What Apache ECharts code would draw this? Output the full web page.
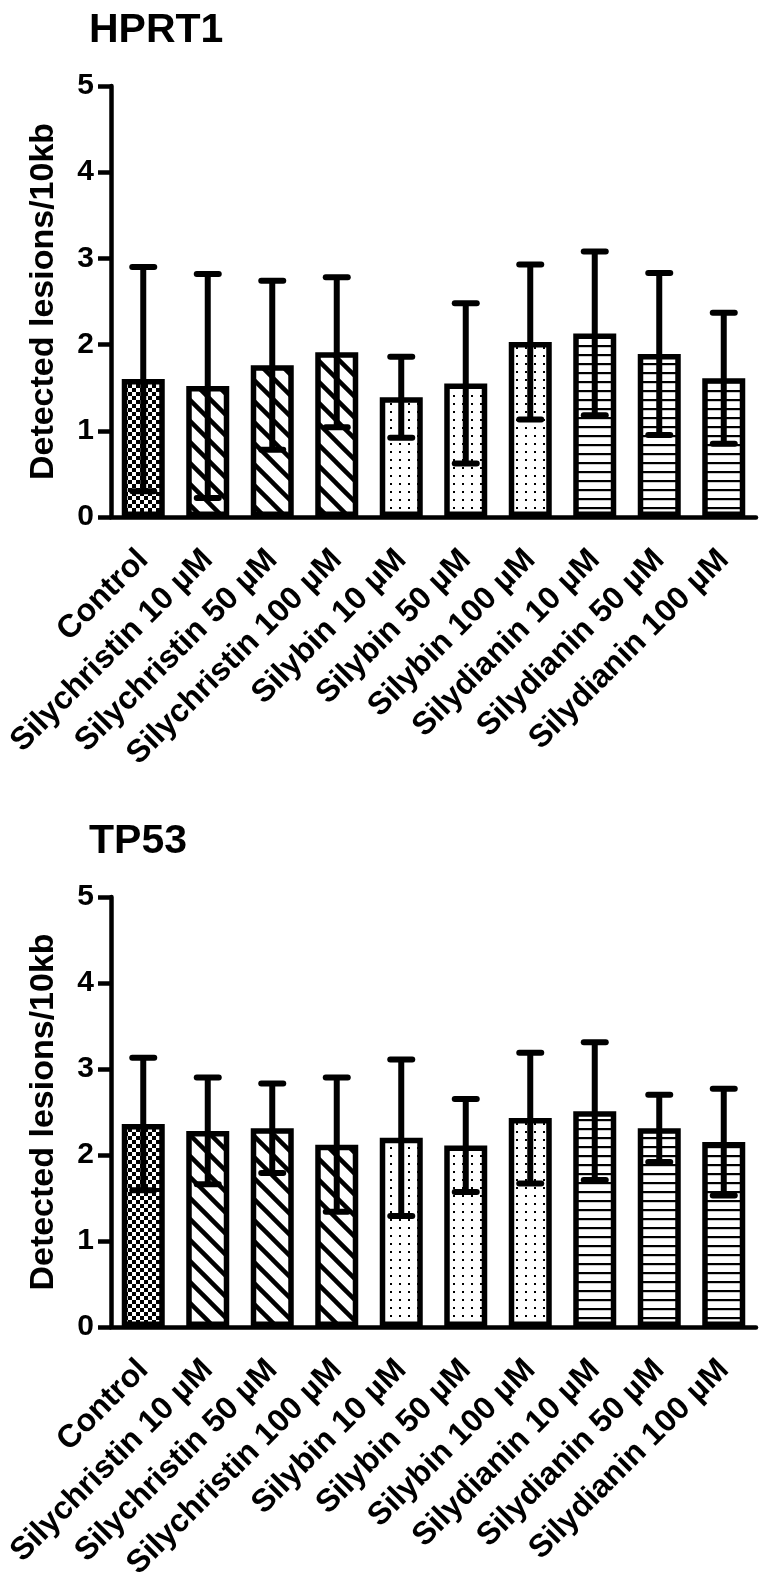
<!DOCTYPE html>
<html>
<head>
<meta charset="utf-8">
<script src="https://cdn.jsdelivr.net/npm/echarts@6/dist/echarts.min.js"></script>
<style>
html,body{margin:0;padding:0;background:#fff;}
#chart{width:766px;height:1586px;}
</style>
</head>
<body>
<div id="chart"></div>
<script>
// ---- data ----
const categories = ['Control','Silychristin 10 µM','Silychristin 50 µM','Silychristin 100 µM',
  'Silybin 10 µM','Silybin 50 µM','Silybin 100 µM','Silydianin 10 µM','Silydianin 50 µM','Silydianin 100 µM'];
const hprt1Mean = [1.60, 1.52, 1.76, 1.91, 1.39, 1.55, 2.03, 2.13, 1.89, 1.61];
const hprt1SD   = [1.30, 1.30, 0.98, 0.87, 0.47, 0.93, 0.90, 0.95, 0.94, 0.76];
const tp53Mean  = [2.36, 2.28, 2.31, 2.12, 2.20, 2.11, 2.43, 2.51, 2.31, 2.15];
const tp53SD    = [0.77, 0.62, 0.52, 0.78, 0.91, 0.54, 0.76, 0.80, 0.39, 0.62];
const yTicks = [0, 1, 2, 3, 4, 5];
const patternOf = ['checker','diag','diag','diag','dots','dots','dots','hlines','hlines','hlines'];
const titles = ['HPRT1', 'TP53'];
const yName = 'Detected lesions/10kb';

// ---- patterns ----
function makeCanvas(w, h, draw){
  const c = document.createElement('canvas'); c.width = w; c.height = h;
  const ctx = c.getContext('2d'); ctx.fillStyle = '#fff'; ctx.fillRect(0,0,w,h);
  ctx.fillStyle = '#000'; ctx.strokeStyle = '#000'; draw(ctx, w, h); return c;
}
const patterns = {
  checker: makeCanvas(8, 8, (ctx)=>{ ctx.fillRect(0,0,4,4); ctx.fillRect(4,4,4,4); }),
  diag: makeCanvas(21, 21, (ctx, w)=>{
    ctx.lineWidth = 4.5;
    for (let k=-1; k<=1; k++){ ctx.beginPath(); ctx.moveTo(k*w - 2, -2); ctx.lineTo(k*w + w + 2, w + 2); ctx.stroke(); }
  }),
  dots: makeCanvas(9, 8, (ctx)=>{ ctx.fillRect(3,3,2,2); }),
  hlines: makeCanvas(4, 9, (ctx)=>{ ctx.fillRect(0,3,4,2.2); })
};

const FONT = '"Liberation Sans", Arial, sans-serif';
const chart = echarts.init(document.getElementById('chart'), null, {renderer:'canvas'});

const grids = [
  {left:111, top:86, width:645, height:431},
  {left:111, top:897, width:645, height:430}
];

function barData(means){
  return means.map((v,i)=>({value:v, itemStyle:{color:{image:patterns[patternOf[i]], repeat:'repeat'}}}));
}
function errData(means, sds){ return means.map((v,i)=>[i, v, sds[i]]); }

function errRender(params, api){
  const i = api.value(0), m = api.value(1), s = api.value(2);
  const hi = api.coord([i, m + s]);
  const lo = api.coord([i, m - s]);
  const half = 11;
  const st = {stroke:'#000', lineWidth:6, lineCap:'round'};
  return {type:'group', children:[
    {type:'line', shape:{x1:hi[0], y1:hi[1], x2:lo[0], y2:lo[1]}, style:{stroke:'#000', lineWidth:6}},
    {type:'line', shape:{x1:hi[0]-half, y1:hi[1], x2:hi[0]+half, y2:hi[1]}, style:st},
    {type:'line', shape:{x1:lo[0]-half, y1:lo[1], x2:lo[0]+half, y2:lo[1]}, style:st}
  ]};
}

const xAxes = [0,1].map(g=>({
  type:'category', gridIndex:g, data:categories,
  axisLine:{lineStyle:{color:'#000', width:4.5}},
  axisTick:{alignWithLabel:true, length:13, lineStyle:{color:'#000', width:4.5}},
  axisLabel:{interval:0, rotate:45, margin:38, padding:[10,0,0,0], color:'#000', fontSize:32, fontWeight:'bold', fontFamily:FONT},
  splitLine:{show:false}
}));
const yAxes = [0,1].map(g=>({
  type:'value', gridIndex:g, min:yTicks[0], max:yTicks[yTicks.length-1], interval:1,
  name:yName, nameLocation:'middle', nameGap:50,
  nameTextStyle:{color:'#000', fontSize:34, fontWeight:'bold', fontFamily:FONT},
  axisLine:{show:true, lineStyle:{color:'#000', width:4.5}},
  axisTick:{show:true, length:13, lineStyle:{color:'#000', width:4.5}},
  axisLabel:{color:'#000', fontSize:30, fontWeight:'bold', fontFamily:FONT, margin:17},
  splitLine:{show:false}
}));

const series = [];
[[hprt1Mean, hprt1SD],[tp53Mean, tp53SD]].forEach((d, g)=>{
  series.push({type:'bar', xAxisIndex:g, yAxisIndex:g, data:barData(d[0]), barWidth:43,
    itemStyle:{borderColor:'#000', borderWidth:5.5}, z:2, silent:true});
  series.push({type:'custom', xAxisIndex:g, yAxisIndex:g, data:errData(d[0], d[1]),
    encode:{x:0, y:1}, renderItem:errRender, z:3, silent:true});
});

chart.setOption({
  animation:false,
  backgroundColor:'#fff',
  title:[
    {text:titles[0], left:84, top:5, textStyle:{color:'#000', fontSize:41, fontWeight:'bold', fontFamily:FONT}},
    {text:titles[1], left:84, top:816, textStyle:{color:'#000', fontSize:41, fontWeight:'bold', fontFamily:FONT}}
  ],
  grid:grids,
  xAxis:xAxes,
  yAxis:yAxes,
  series:series
});
</script>
</body>
</html>
